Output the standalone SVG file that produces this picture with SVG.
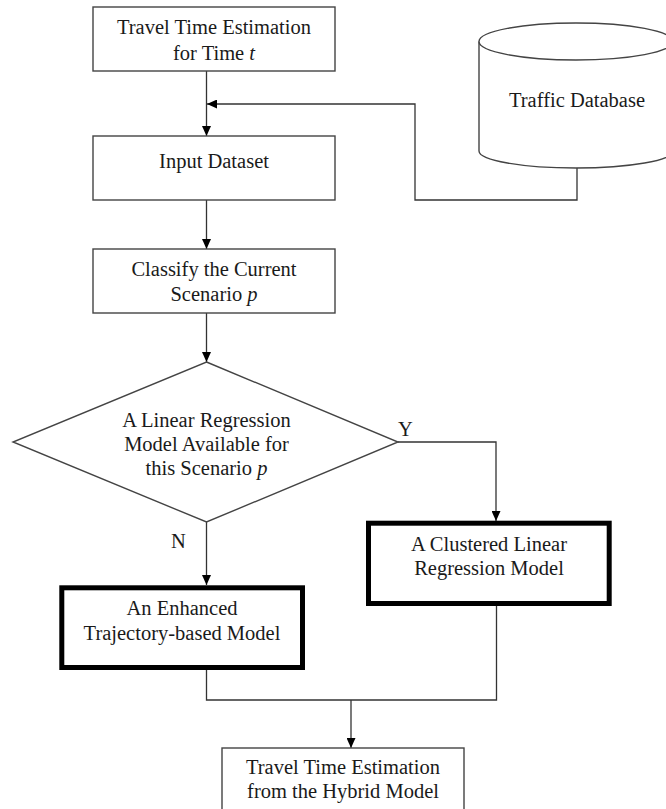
<svg xmlns="http://www.w3.org/2000/svg" width="666" height="809" viewBox="0 0 666 809">
<style>
.box{fill:#fff;stroke:#444;stroke-width:1.4}
.bold{fill:#fff;stroke:#000;stroke-width:5}
.ln{fill:none;stroke:#333;stroke-width:1.3}
text{font-family:"Liberation Serif","DejaVu Serif",serif;font-size:20.5px;fill:#1a1a1a;text-anchor:middle}
.lbl{text-anchor:start}
</style>
<defs>
<marker id="ah" viewBox="0 0 10 9" refX="10" refY="4.5" markerWidth="10" markerHeight="9" markerUnits="userSpaceOnUse" orient="auto">
<path d="M0,0 L10,4.5 L0,9 z" fill="#000"/>
</marker>
</defs>
<rect width="666" height="809" fill="#fff"/>
<g id="connectors" font-family="Liberation Serif, serif">
<path class="ln" d="M206.5,71 V136" marker-end="url(#ah)"/>
<path class="ln" d="M577,168 V200 H415 V104 H207" marker-end="url(#ah)"/>
<path class="ln" d="M206.5,200 V249" marker-end="url(#ah)"/>
<path class="ln" d="M206.5,313 V362" marker-end="url(#ah)"/>
<path class="ln" d="M398,442 H496 V521" marker-end="url(#ah)"/>
<path class="ln" d="M206.5,522 V585" marker-end="url(#ah)"/>
<path class="ln" d="M206.5,670 V700 H496.5 V606"/>
<path class="ln" d="M351,700 V748" marker-end="url(#ah)"/>
<text class="lbl" x="398" y="436">Y</text>
<text class="lbl" x="171" y="548">N</text>
</g>
<g id="n1">
<rect class="box" x="93" y="7" width="242" height="64"/>
<text x="214" y="34">Travel Time Estimation</text>
<text x="214" y="59.5">for Time <tspan font-style="italic">t</tspan></text>
</g>
<g id="db">
<path d="M479,41.5 V151 A97,17 0 0 0 673,151 V41.5" fill="#fff" stroke="#444" stroke-width="1.4"/>
<ellipse cx="576" cy="41.5" rx="97" ry="18.5" fill="#fff" stroke="#444" stroke-width="1.4"/>
<text x="577" y="107">Traffic Database</text>
</g>
<g id="n2">
<rect class="box" x="93" y="136" width="242" height="64"/>
<text x="214" y="167.5">Input Dataset</text>
</g>
<g id="n3">
<rect class="box" x="93" y="249" width="242" height="64"/>
<text x="214" y="276">Classify the Current</text>
<text x="214" y="301">Scenario <tspan font-style="italic">p</tspan></text>
</g>
<g id="decision">
<path class="box" d="M206.5,362 L398,442 L206.5,522 L13,442 Z"/>
<text x="206.5" y="427">A Linear Regression</text>
<text x="206.5" y="451">Model Available for</text>
<text x="206.5" y="475">this Scenario <tspan font-style="italic">p</tspan></text>
</g>
<g id="clustered">
<rect class="bold" x="368.5" y="523.2" width="240.7" height="80.3"/>
<text x="489" y="551">A Clustered Linear</text>
<text x="489" y="575">Regression Model</text>
</g>
<g id="enhanced">
<rect class="bold" x="61.8" y="587.8" width="240.7" height="79.7"/>
<text x="182" y="615">An Enhanced</text>
<text x="182" y="639.5">Trajectory-based Model</text>
</g>
<g id="result">
<rect class="box" x="222" y="748" width="242" height="72"/>
<text x="343" y="774">Travel Time Estimation</text>
<text x="343" y="798">from the Hybrid Model</text>
</g>
</svg>
